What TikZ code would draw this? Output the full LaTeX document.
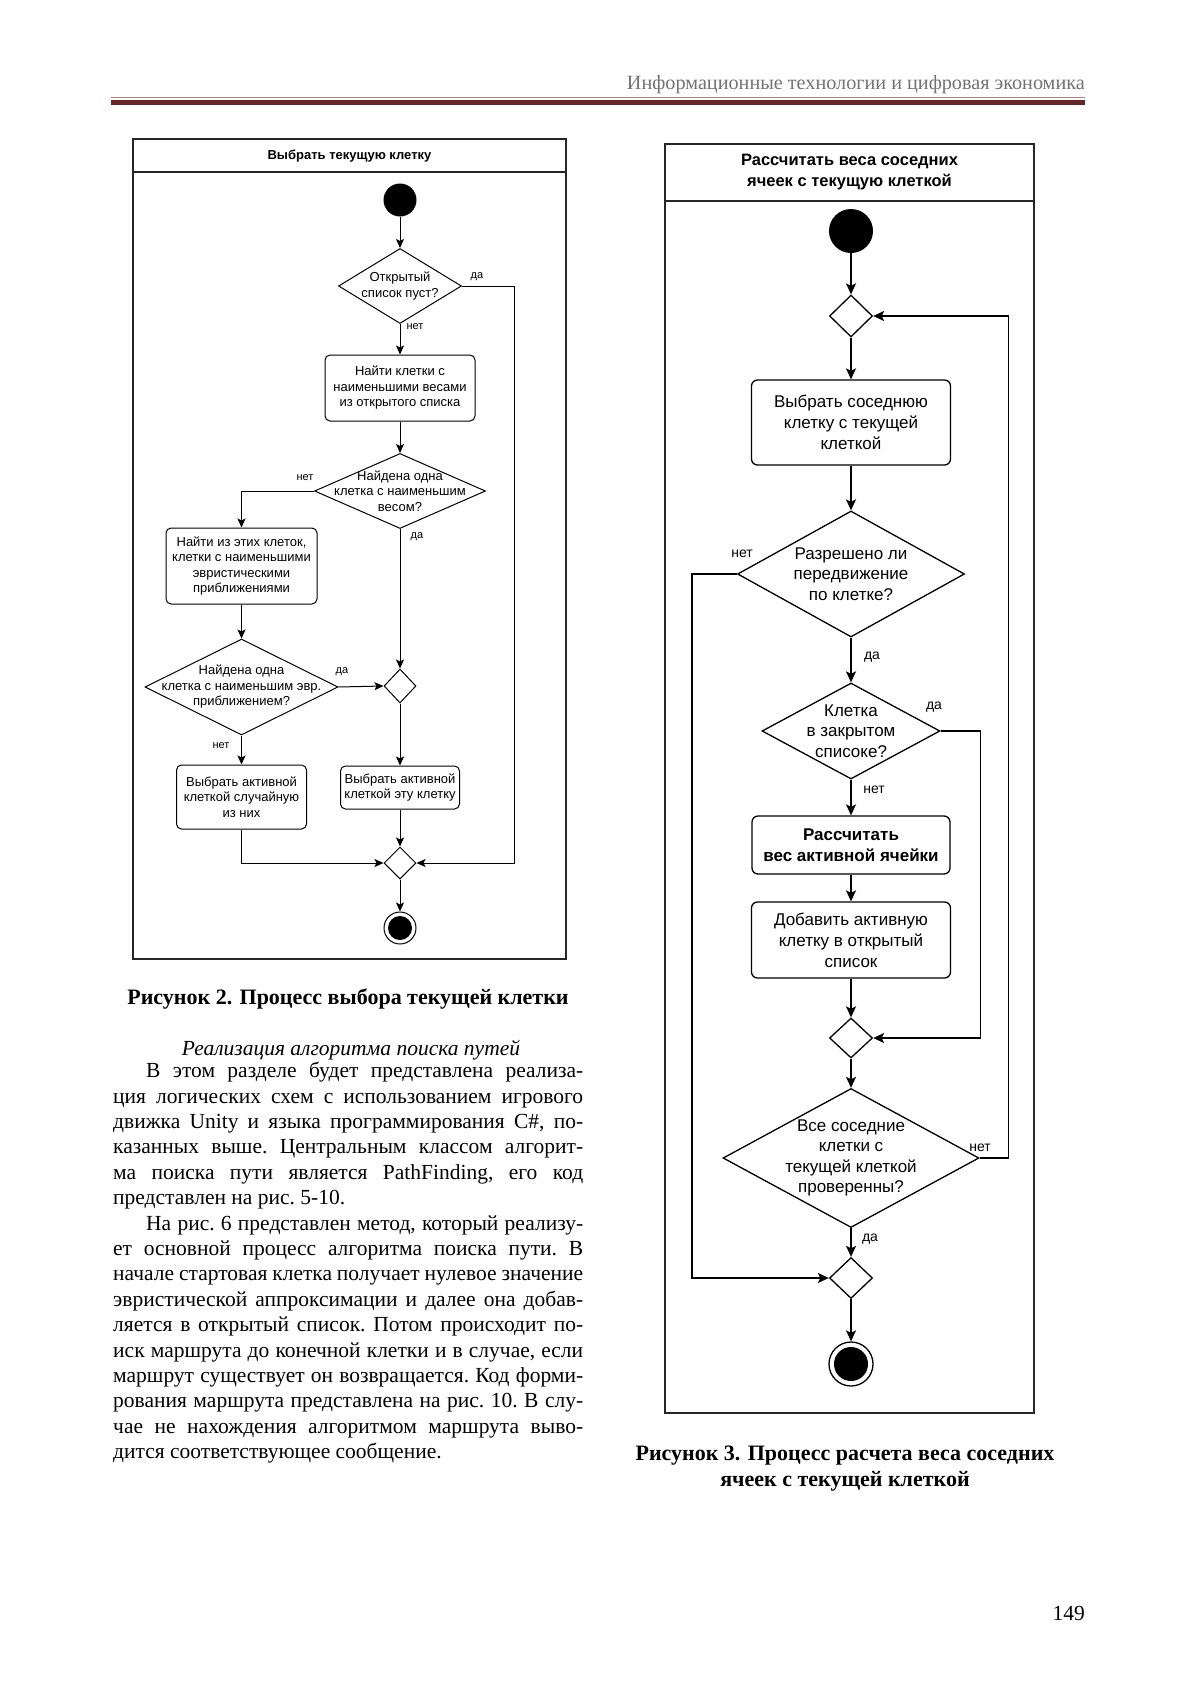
\documentclass[tikz,border=0pt]{standalone}
\usepackage{fontspec}
\setmainfont{Liberation Serif}
\newfontfamily\diafont{Liberation Sans}
\usetikzlibrary{shapes.geometric, arrows.meta}
\definecolor{rulered}{HTML}{6B2426}
\definecolor{rulelight}{HTML}{B07878}

\tikzset{
  frameL/.style={draw=black!85, line width=1.3pt},
  frameR/.style={draw=black!85, line width=1.6pt},
  titleL/.style={font=\diafont\bfseries\fontsize{13}{15}\selectfont, inner sep=0pt},
  titleR/.style={font=\diafont\bfseries\fontsize{16.5}{21}\selectfont, align=center, inner sep=0pt},
  startL/.style={circle, fill=black, minimum size=33pt, inner sep=0pt},
  startR/.style={circle, fill=black, minimum size=44pt, inner sep=0pt},
  endL/.style={circle, draw, line width=1pt, minimum size=32pt, inner sep=0pt,
    path picture={\fill[black] (path picture bounding box.center) circle[radius=12pt];}},
  endR/.style={circle, draw, line width=1.3pt, minimum size=44pt, inner sep=0pt,
    path picture={\fill[black] (path picture bounding box.center) circle[radius=17pt];}},
  actL/.style={draw, line width=1pt, rounded corners=5pt, align=center, inner sep=0pt,
    font=\diafont\fontsize{13}{15.5}\selectfont},
  actR/.style={draw, line width=1.3pt, rounded corners=6pt, align=center, inner sep=0pt,
    font=\diafont\fontsize{17}{21}\selectfont},
  decL/.style={diamond, draw, line width=1pt, inner sep=0pt},
  decR/.style={diamond, draw, line width=1.3pt, inner sep=0pt},
  dtxtL/.style={align=center, inner sep=0pt, font=\diafont\fontsize{13}{15.5}\selectfont},
  dtxtR/.style={align=center, inner sep=0pt, font=\diafont\fontsize{17}{20.5}\selectfont},
  lblL/.style={font=\diafont\fontsize{11}{13}\selectfont, inner sep=0pt},
  lblR/.style={font=\diafont\fontsize{14}{16}\selectfont, inner sep=0pt},
  arrL/.style={draw, line width=1pt, -{Stealth[length=9pt, width=8pt, inset=2pt]}},
  arrR/.style={draw, line width=1.6pt, -{Stealth[length=11pt, width=10pt, inset=2.5pt]}},
  bodytext/.style={text width=470pt, align=justify, inner sep=0pt,
    font=\fontsize{21.5}{25.4}\selectfont},
}

\begin{document}
\begin{tikzpicture}[x=1pt, y=-1pt]
\path[use as bounding box, fill=white] (0,0) rectangle (1200,1697);

% page header
\node[anchor=base east, inner sep=0pt, text=black!55, font=\fontsize{20.2}{24}\selectfont] (head) at (1085,89) {Информационные технологии и цифровая экономика};
\fill[rulelight] (111,96.5) rectangle (1085,98);
\fill[rulered] (111,100) rectangle (1085,105);

% left diagram
\draw[frameL] (133,139) rectangle (566,959);
\draw[frameL] (133,172) -- (566,172);
\node[titleL] (hL) at (349.5,156) {Выбрать текущую клетку};

\node[startL] (s1) at (400,200) {};
\node[decL, minimum width=123pt, minimum height=75pt, label={[dtxtL]center:{Открытый\\список пуст?}}] (d1) at (400,286) {};
\node[actL, minimum width=150pt, minimum height=66pt] (b1) at (400,388) {Найти клетки с\\наименьшими весами\\из открытого списка};
\node[decL, minimum width=171pt, minimum height=75pt, label={[dtxtL]center:{Найдена одна\\клетка с наименьшим\\весом?}}] (d2) at (400,491) {};
\node[actL, minimum width=151pt, minimum height=76pt] (b2) at (241.5,566) {Найти из этих клеток,\\клетки с наименьшими\\эвристическими\\приближениями};
\node[decL, minimum width=193pt, minimum height=96pt, label={[dtxtL]center:{Найдена одна\\клетка с наименьшим эвр.\\приближением?}}] (d3) at (241.5,687) {};
\node[decL, minimum width=32pt, minimum height=34pt] (mA) at (400,686) {};
\node[actL, minimum width=130pt, minimum height=64pt] (b3) at (241.5,797) {Выбрать активной\\клеткой случайную\\из них};
\node[actL, minimum width=119pt, minimum height=43pt] (b4) at (400,787.5) {Выбрать активной\\клеткой эту клетку};
\node[decL, minimum width=32pt, minimum height=32pt] (mB) at (400,863) {};
\node[endL] (e1) at (400,928) {};

\draw[arrL] (s1) -- (d1);
\draw[arrL] (d1) -- (b1);
\draw[arrL] (d1.east) -- ++(52.5,0) |- (mB.east);
\draw[arrL] (b1) -- (d2);
\draw[arrL] (d2.west) -| (b2.north);
\draw[arrL] (d2.south) -- (mA.north);
\draw[arrL] (b2) -- (d3);
\draw[arrL] (d3.east) -- (mA.west);
\draw[arrL] (d3.south) -- (b3.north);
\draw[arrL] (mA) -- (b4);
\draw[arrL] (b4) -- (mB);
\draw[arrL] (b3.south) |- (mB.west);
\draw[arrL] (mB) -- (e1);

\node[lblL] (l1) at (477,277) {да};
\node[lblL] (l2) at (415,327) {нет};
\node[lblL] (l3) at (305,478) {нет};
\node[lblL] (l4) at (417,537) {да};
\node[lblL] (l5) at (342,672) {да};
\node[lblL] (l6) at (221,746) {нет};

% right diagram
\draw[frameR] (665,144) rectangle (1034,1413);
\draw[frameR] (665,201) -- (1034,201);
\node[titleR] (hR) at (849.5,172.5) {Рассчитать веса соседних\\ячеек с текущую клеткой};

\node[startR] (s2) at (851,231) {};
\node[decR, minimum width=43pt, minimum height=42pt] (mC) at (851,316) {};
\node[actR, minimum width=199pt, minimum height=85pt] (r1) at (851,422.5) {Выбрать соседнюю\\клетку с текущей\\клеткой};
\node[decR, minimum width=227pt, minimum height=126pt, label={[dtxtR]center:{Разрешено ли\\передвижение\\по клетке?}}] (q1) at (851,574) {};
\node[decR, minimum width=178pt, minimum height=96pt, label={[dtxtR]center:{Клетка\\в закрытом\\списоке?}}] (q2) at (851,731) {};
\node[actR, minimum width=198pt, minimum height=58pt, font=\diafont\bfseries\fontsize{17}{21}\selectfont] (r2) at (851,845) {Рассчитать\\вес активной ячейки};
\node[actR, minimum width=199pt, minimum height=76pt] (r3) at (851,940) {Добавить активную\\клетку в открытый\\список};
\node[decR, minimum width=43pt, minimum height=40pt] (mD) at (851,1038) {};
\node[decR, minimum width=256pt, minimum height=139pt, label={[dtxtR]center:{Все соседние\\клетки с\\текущей клеткой\\проверенны?}}] (q3) at (851,1158) {};
\node[decR, minimum width=43pt, minimum height=41pt] (mE) at (851,1278) {};
\node[endR] (e2) at (851,1364) {};

\draw[arrR] (s2) -- (mC);
\draw[arrR] (mC) -- (r1);
\draw[arrR] (r1) -- (q1);
\draw[arrR] (q1) -- (q2);
\draw[arrR] (q1.west) -- ++(-45,0) |- (mE.west);
\draw[arrR] (q2) -- (r2);
\draw[arrR] (q2.east) -- ++(40,0) |- (mD.east);
\draw[arrR] (r2) -- (r3);
\draw[arrR] (r3) -- (mD);
\draw[arrR] (mD) -- (q3);
\draw[arrR] (q3.east) -- ++(29,0) |- (mC.east);
\draw[arrR] (q3) -- (mE);
\draw[arrR] (mE) -- (e2);

\node[lblR] (k1) at (742,554) {нет};
\node[lblR] (k2) at (872,657) {да};
\node[lblR] (k3) at (934,707) {да};
\node[lblR] (k4) at (874,790) {нет};
\node[lblR] (k5) at (980,1148) {нет};
\node[lblR] (k6) at (870,1239) {да};

% captions and text
\node[anchor=base, inner sep=0pt, font=\bfseries\fontsize{22}{25}\selectfont] (cap2) at (348,1004) {Рисунок 2. Процесс выбора текущей клетки};
\node[anchor=base, inner sep=0pt, font=\itshape\fontsize{21.5}{25}\selectfont] (sec) at (351,1055) {Реализация алгоритма поиска путей};
\node[bodytext, anchor=north west] (body) at (113,1062) {\frenchspacing\parindent=0pt\hyphenpenalty=10000\exhyphenpenalty=10000\tolerance=9999\hspace*{33pt}В этом разделе будет представлена реализа-\linebreak ция логических схем с использованием игрового\linebreak движка Unity и языка программирования C\#, по-\linebreak казанных выше. Центральным классом алгорит-\linebreak ма поиска пути является PathFinding, его код\linebreak представлен на рис.~5-10.\par
\hspace*{33pt}На рис.~6 представлен метод, который реализу-\linebreak ет основной процесс алгоритма поиска пути. В\linebreak начале стартовая клетка получает нулевое значение\linebreak эвристической аппроксимации и далее она добав-\linebreak ляется в открытый список. Потом происходит по-\linebreak иск маршрута до конечной клетки и в случае, если\linebreak маршрут существует он возвращается. Код форми-\linebreak рования маршрута представлена на рис.~10. В слу-\linebreak чае не нахождения алгоритмом маршрута выво-\linebreak дится соответствующее сообщение.};
\node[anchor=north, inner sep=0pt, align=center, font=\bfseries\fontsize{22}{25.5}\selectfont] (cap3) at (845,1446) {Рисунок 3. Процесс расчета веса соседних\\ячеек с текущей клеткой};

\node[anchor=base east, inner sep=0pt, font=\fontsize{21.5}{24}\selectfont] (pnum) at (1085,1620) {149};
\end{tikzpicture}
\end{document}
